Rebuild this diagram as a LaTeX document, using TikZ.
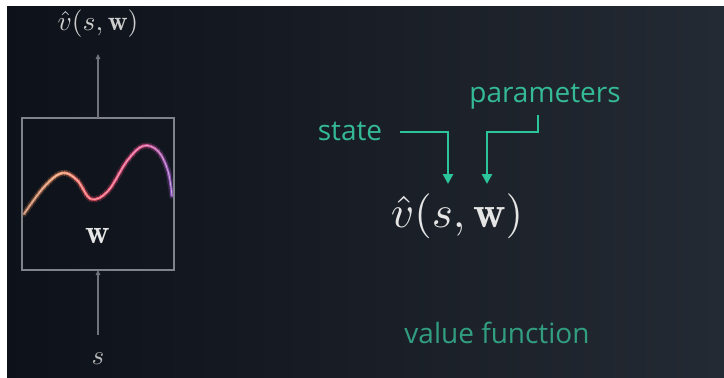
\documentclass[tikz,border=0pt]{standalone}
\usepackage{fontspec}
\newfontfamily\labelfont{Open Sans}
\usetikzlibrary{arrows.meta}

\definecolor{bgleft}{RGB}{13,17,25}
\definecolor{bgright}{RGB}{36,42,51}
\definecolor{boxgray}{RGB}{128,132,138}
\definecolor{wiregray}{RGB}{112,116,122}
\definecolor{labelteal}{RGB}{52,186,148}
\definecolor{lineteal}{RGB}{44,196,156}
\definecolor{dimteal}{RGB}{50,158,128}
\definecolor{cA}{RGB}{170,110,80}
\definecolor{cB}{RGB}{240,150,105}
\definecolor{cC}{RGB}{235,80,100}
\definecolor{cD}{RGB}{220,80,140}
\definecolor{cE}{RGB}{120,80,185}

% the wave inside the function box
\newcommand\wavecurve[1]{\draw[#1, line cap=round] plot[smooth, tension=0.6] coordinates
  {(24,214) (44,187) (62,173) (77,180) (91,199) (108,191) (127,161) (143,146) (158,151) (168,171) (172,196)};}

\tikzset{
  wire/.style={draw=wiregray, line width=1.2pt, -{Triangle[length=5pt,width=4.5pt]}},
  pointer/.style={draw=lineteal, line width=2.6pt, -{Triangle[length=10pt,width=10pt]}},
  tealtext/.style={text=labelteal, font=\labelfont\fontsize{28}{32}\selectfont},
  mathtext/.style={text=white!90!black}
}

\begin{document}
\begin{tikzpicture}[x=1pt, y=-1pt]
  \useasboundingbox (0,0) rectangle (724,378);
  \shade[left color=bgleft, right color=bgright] (0,0) rectangle (724,378);
  \fill[white] (0,0) rectangle (7,378);
  \fill[white] (0,0) rectangle (724,6);

  % gradient wave, drawn strip by strip
  \foreach \xa/\xb/\ca/\cb in {22/62/cA/cB, 62/92/cB/cC, 92/143/cC/cD, 143/176/cD/cE}{
    \foreach \k in {0,...,11}{
      \pgfmathsetmacro\lo{\xa+(\xb-\xa)*\k/12-0.4}
      \pgfmathsetmacro\hi{\xa+(\xb-\xa)*(\k+1)/12+0.4}
      \pgfmathtruncatemacro\pc{100*(\k+0.5)/12}
      \colorlet{segc}{\cb!\pc!\ca}
      \begin{scope}
        \clip (\lo,100) rectangle (\hi,260);
        \wavecurve{segc, line width=6pt, opacity=0.22}
        \wavecurve{segc, line width=2.8pt}
        \wavecurve{segc!45!white, line width=0.8pt}
      \end{scope}
    }
  }

  % function box
  \node[draw=boxgray, line width=1.6pt, minimum width=152pt, minimum height=152pt,
        inner sep=0pt, outer sep=0pt] (box) at (98,194) {};
  \node[mathtext, scale=3.4] (wlab) at (98,236) {$\mathbf{w}$};

  % output and input
  \node[text=white!80!black, scale=2.75] (vtop) at (98,24) {$\hat v(s,\mathbf{w})$};
  \coordinate (topend) at (98,54);
  \draw[wire] (box.north) -- (topend);
  \node[text=white!72!black, scale=2.7] (sin) at (98,359) {$s$};
  \draw[wire, shorten <=9pt] (sin.north) -- (box.south);

  % annotated formula
  \node[mathtext, scale=4.5] (vhat) at (457,216) {$\hat v(s,\mathbf{w})$};
  \coordinate (sTip) at (448,184);
  \coordinate (wTip) at (487,184);

  \node[tealtext] (state) at (350,131) {state};
  \draw[pointer] ([xshift=14pt,yshift=-1pt]state.east) -| (sTip);

  \node[tealtext] (params) at (545,97) {parameters};
  \coordinate (pStart) at (538,115);
  \draw[pointer] (pStart) -- ++(0,17) -| (wTip);

  \node[tealtext, text=dimteal] (vf) at (497,333) {value function};
\end{tikzpicture}
\end{document}
